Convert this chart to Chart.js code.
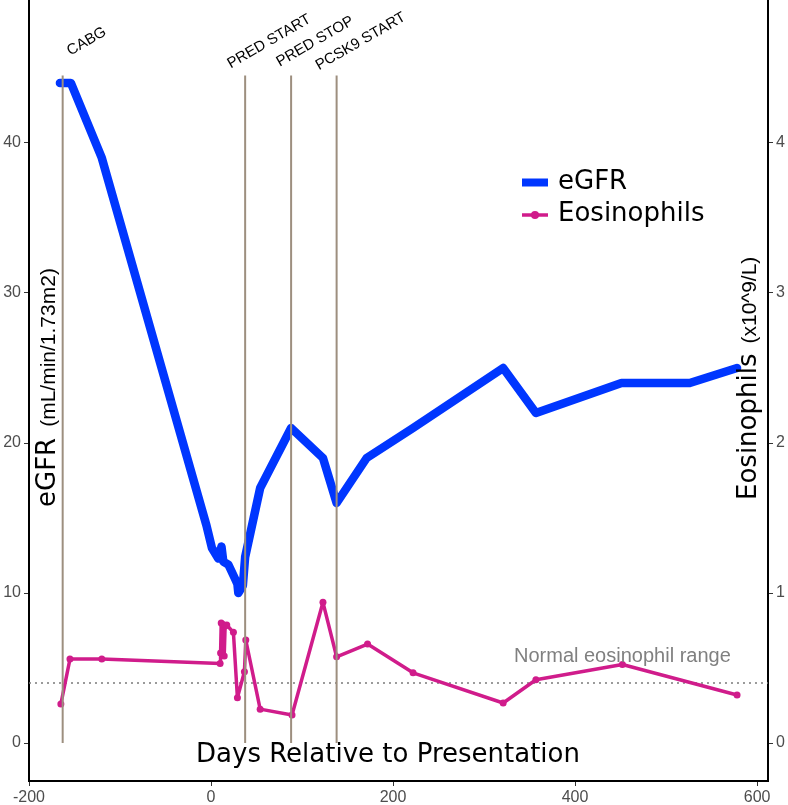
<!DOCTYPE html>
<html>
<head>
<meta charset="utf-8">
<script src="https://cdn.jsdelivr.net/npm/chart.js@4"></script>
<style>
  html, body { margin: 0; padding: 0; background: #fff; }
  canvas { display: block; }
</style>
</head>
<body>
<canvas id="chart" width="788" height="805"></canvas>
<script>
// eGFR, mL/min/1.73m2 (left axis)
const egfrDays   = [-166, -154, -120, -5, 1, 8, 11.5, 13.5, 19, 26, 29, 30, 35, 37.5, 54, 88, 123, 138, 171, 222, 321, 357, 451, 526, 578];
const egfrValues = [44, 44, 39, 14.5, 13, 12.3, 13.1, 12.1, 11.9, 11, 10.6, 10, 10.5, 12.4, 17, 21, 19, 16, 19, 21, 25, 22, 24, 24, 25];

// Eosinophils, x10^9/L (right axis)
const eosDays   = [-165, -155, -120, 10, 10.5, 11.2, 12, 13, 14.5, 15.5, 17.3, 24.6, 29, 36.7, 38.2, 54, 89, 123, 138, 172, 222, 321, 357, 452, 578];
const eosValues = [0.26, 0.56, 0.56, 0.53, 0.6, 0.8, 0.6, 0.79, 0.58, 0.78, 0.787, 0.738, 0.302, 0.475, 0.687, 0.226, 0.187, 0.938, 0.575, 0.66, 0.468, 0.267, 0.422, 0.524, 0.32];

// events
const eventDays   = [-163, 37.5, 88, 138];
const eventLabels = ['CABG', 'PRED START', 'PRED STOP', 'PCSK9 START'];
const eventTop = 44.5;

const eosNormal = 0.4;
const eosNormalLabel = 'Normal eosinophil range';

// tick labels
const xTicks = [-200, 0, 200, 400, 600];
const egfrTicks = [0, 10, 20, 30, 40];
const eosTicks = [0, 1, 2, 3, 4];

const BLUE = '#0036ff';
const PINK = '#d01c8b';
const EVENT = '#9d8f7f';

const toPoints = (xs, ys) => xs.map((d, i) => ({ x: d, y: ys[i] }));

const overlay = {
  id: 'overlay',
  beforeDatasetsDraw(chart) {
    const { ctx, chartArea, scales } = chart;
    const ty = scales.y2.getPixelForValue(eosNormal);
    ctx.save();
    ctx.strokeStyle = '#7a7a7a';
    ctx.lineWidth = 1.5;
    ctx.setLineDash([2, 4]);
    ctx.beginPath();
    ctx.moveTo(chartArea.left, ty);
    ctx.lineTo(chartArea.right, ty);
    ctx.stroke();
    ctx.restore();
  },
  afterDatasetsDraw(chart) {
    const { ctx, scales } = chart;
    const { x, y, y2 } = scales;
    ctx.save();

    // event lines + rotated labels
    const top = y.getPixelForValue(eventTop);
    const bottom = y.getPixelForValue(0);
    ctx.strokeStyle = EVENT;
    ctx.lineWidth = 2;
    ctx.font = '15px "Liberation Sans", Arial, sans-serif';
    ctx.fillStyle = '#000';
    ctx.textAlign = 'center';
    ctx.textBaseline = 'middle';
    eventDays.forEach((d, i) => {
      const px = x.getPixelForValue(d);
      ctx.beginPath();
      ctx.moveTo(px, top);
      ctx.lineTo(px, bottom);
      ctx.stroke();
      ctx.save();
      ctx.translate(px + 24, top - 34);
      ctx.rotate(-Math.PI / 6);
      ctx.fillText(eventLabels[i], 0, 0);
      ctx.restore();
    });

    // normal range label
    ctx.fillStyle = '#808080';
    ctx.font = '20px "Liberation Sans", Arial, sans-serif';
    ctx.textAlign = 'center';
    ctx.textBaseline = 'alphabetic';
    ctx.fillText(eosNormalLabel, x.getPixelForValue(452), y2.getPixelForValue(0.54));

    // legend
    const lx = 522, lw = 26;
    ctx.lineCap = 'butt';
    ctx.strokeStyle = BLUE;
    ctx.lineWidth = 8;
    ctx.beginPath(); ctx.moveTo(lx, 182.5); ctx.lineTo(lx + lw, 182.5); ctx.stroke();
    ctx.strokeStyle = PINK;
    ctx.lineWidth = 3.5;
    ctx.beginPath(); ctx.moveTo(lx, 215); ctx.lineTo(lx + lw, 215); ctx.stroke();
    ctx.fillStyle = PINK;
    ctx.beginPath(); ctx.arc(lx + lw / 2, 215, 4, 0, Math.PI * 2); ctx.fill();
    ctx.fillStyle = '#000';
    ctx.font = '26px "DejaVu Sans", sans-serif';
    ctx.textAlign = 'left';
    ctx.textBaseline = 'middle';
    ctx.fillText('eGFR', 558, 182);
    ctx.fillText('Eosinophils', 558, 214);

    // x title
    ctx.textAlign = 'center';
    ctx.textBaseline = 'alphabetic';
    ctx.fillText('Days Relative to Presentation', 388, 762);

    // rotated y titles: big text + small units
    const yTitle = (bx, startY, big, small, gap) => {
      ctx.save();
      ctx.translate(bx, startY);
      ctx.rotate(-Math.PI / 2);
      ctx.textAlign = 'left';
      ctx.textBaseline = 'alphabetic';
      ctx.fillStyle = '#000';
      ctx.font = '26px "DejaVu Sans", sans-serif';
      ctx.fillText(big, 0, 0);
      const w = ctx.measureText(big).width;
      ctx.font = '21px "Liberation Sans", Arial, sans-serif';
      ctx.fillText(small, w + gap, 0);
      ctx.restore();
    };
    yTitle(55, 507, 'eGFR', '(mL/min/1.73m2)', 11);
    yTitle(756, 500, 'Eosinophils', '(x10^9/L)', 10);

    ctx.restore();
  }
};

const tickFont = { family: '"Liberation Sans", Arial, sans-serif', size: 16 };
const axisGrid = { display: true, drawOnChartArea: false, drawTicks: true, tickLength: 5, tickColor: '#333', lineWidth: 1 };
const axisBorder = { display: true, color: '#000', width: 2 };

new Chart(document.getElementById('chart'), {
  type: 'scatter',
  data: {
    datasets: [
      {
        label: 'eGFR',
        data: toPoints(egfrDays, egfrValues),
        yAxisID: 'y',
        showLine: true,
        borderColor: BLUE,
        backgroundColor: BLUE,
        borderWidth: 8.5,
        borderCapStyle: 'round',
        borderJoinStyle: 'round',
        pointRadius: 0,
        tension: 0
      },
      {
        label: 'Eosinophils',
        data: toPoints(eosDays, eosValues),
        yAxisID: 'y2',
        showLine: true,
        borderColor: PINK,
        backgroundColor: PINK,
        borderWidth: 3.5,
        borderJoinStyle: 'round',
        pointRadius: 3.5,
        pointBorderWidth: 0,
        tension: 0
      }
    ]
  },
  options: {
    responsive: false,
    animation: false,
    layout: { padding: 0, autoPadding: false },
    plugins: { legend: { display: false }, tooltip: { enabled: false } },
    scales: {
      x: {
        type: 'linear',
        min: -200,
        max: 612,
        grid: axisGrid,
        border: axisBorder,
        ticks: { font: tickFont, color: '#4d4d4d', padding: 2, maxRotation: 0 },
        afterBuildTicks: s => { s.ticks = xTicks.map(v => ({ value: v })); },
        afterFit: s => { s.height = 24; s.paddingLeft = 0; s.paddingRight = 0; }
      },
      y: {
        type: 'linear',
        position: 'left',
        min: -2.53,
        max: 49.53,
        grid: axisGrid,
        border: axisBorder,
        ticks: { font: tickFont, color: '#4d4d4d', padding: 3 },
        afterBuildTicks: s => { s.ticks = egfrTicks.map(v => ({ value: v })); },
        afterFit: s => { s.width = 29; s.paddingTop = 0; s.paddingBottom = 0; }
      },
      y2: {
        type: 'linear',
        position: 'right',
        min: -0.253,
        max: 4.953,
        grid: axisGrid,
        border: axisBorder,
        ticks: { font: tickFont, color: '#4d4d4d', padding: 3 },
        afterBuildTicks: s => { s.ticks = eosTicks.map(v => ({ value: v })); },
        afterFit: s => { s.width = 20; s.paddingTop = 0; s.paddingBottom = 0; }
      }
    }
  },
  plugins: [overlay]
});
</script>
</body>
</html>
